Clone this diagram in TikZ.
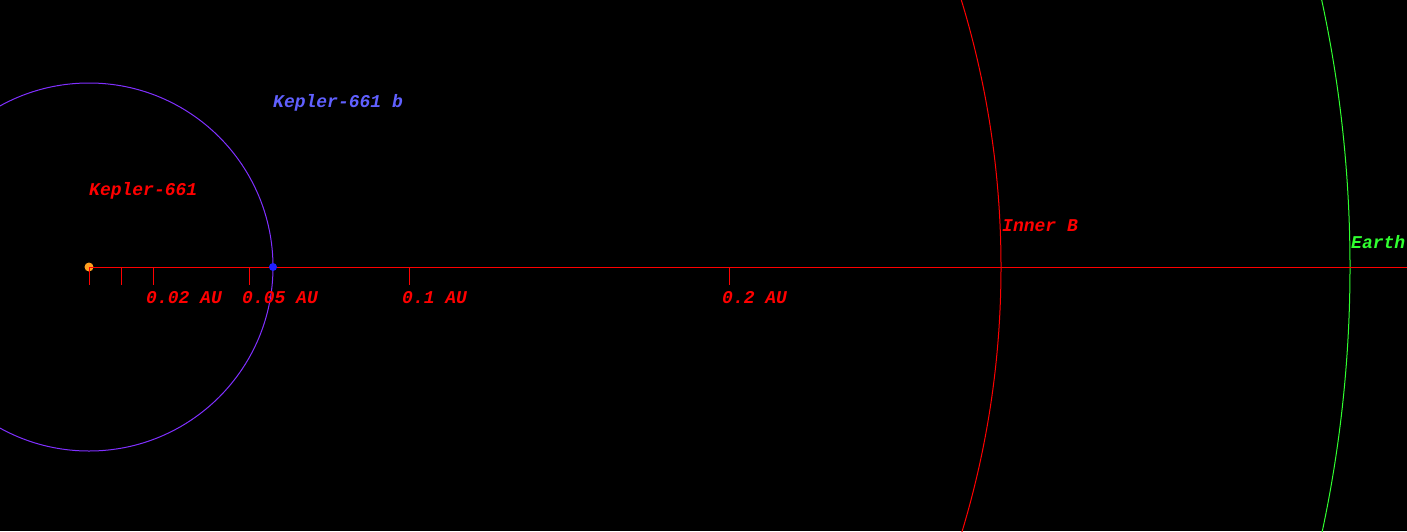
\documentclass[tikz,border=0pt]{standalone}
\usepackage{fontspec}
\newfontfamily\orbfont{Liberation Mono}
\definecolor{orbpurple}{RGB}{128,48,255}
\definecolor{planetblue}{RGB}{32,32,255}
\definecolor{labelblue}{RGB}{96,96,255}
\definecolor{axisred}{RGB}{255,0,0}
\definecolor{earthgreen}{RGB}{48,255,48}
\definecolor{starorange}{RGB}{255,160,32}
\tikzset{
  lbl/.style={inner sep=0pt, anchor=base west, font=\orbfont\bfseries\itshape\fontsize{18}{18}\selectfont},
  tickmark/.style={draw=axisred, line width=1pt},
}
\begin{document}
\begin{tikzpicture}[x=1pt,y=-1pt]
\fill[black] (0,0) rectangle (1407,531);
\useasboundingbox (0,0) rectangle (1407,531);
\begin{scope}
\clip (0,0) rectangle (1407,531);
\coordinate (c) at (89,267);
\draw[orbpurple, line width=1pt] (c) circle (184);
\draw[axisred, line width=1pt] (c) circle (912);
\draw[earthgreen, line width=1pt] (c) circle (1261);
\coordinate (e) at (1407,267);
\draw[axisred, line width=1pt] (c) -- (e);
\foreach \x in {89,121,153,249,409,729} {
  \draw[tickmark] (\x,267) -- (\x,285);
}
\node[circle, fill=starorange, minimum size=9pt, inner sep=0pt] (star) at (c) {};
\node[circle, fill=planetblue, minimum size=8pt, inner sep=0pt] (planet) at (273,267) {};
\draw[axisred, line width=1pt] (89,267) -- (98,267);
\draw[axisred, line width=1pt] (89,267) -- (89,276);
\end{scope}
\node[lbl, text=labelblue] (lb) at (273,107) {Kepler-661 b};
\node[lbl, text=axisred] (ls) at (89,195) {Kepler-661};
\node[lbl, text=axisred] (li) at (1002,231) {Inner B};
\node[lbl, text=earthgreen] (le) at (1351,248) {Earth};
\node[lbl, text=axisred] (t1) at (146,303) {0.02 AU};
\node[lbl, text=axisred] (t2) at (242,303) {0.05 AU};
\node[lbl, text=axisred] (t3) at (402,303) {0.1 AU};
\node[lbl, text=axisred] (t4) at (722,303) {0.2 AU};
\end{tikzpicture}
\end{document}
